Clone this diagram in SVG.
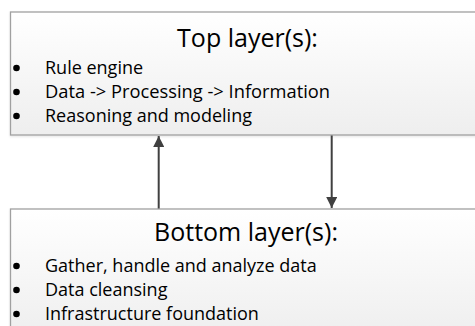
<svg xmlns="http://www.w3.org/2000/svg" width="475" height="326" viewBox="0 0 475 326">
<defs>
<linearGradient id="g" x1="0" y1="0" x2="0" y2="1">
<stop offset="0" stop-color="#ffffff"/>
<stop offset="1" stop-color="#eeeeee"/>
</linearGradient>
<marker id="ah" markerWidth="11" markerHeight="11" viewBox="0 0 11 11" refX="11" refY="5.5" orient="auto" markerUnits="userSpaceOnUse">
<path d="M0,0 L11,5.5 L0,11 Z" fill="#404040"/>
</marker>
<filter id="sh" x="-5%" y="-5%" width="110%" height="120%">
<feDropShadow dx="0" dy="1.2" stdDeviation="0.8" flood-color="#000" flood-opacity="0.1"/>
</filter>
</defs>
<style>
.box{fill:url(#g);stroke:#a0a0a0;stroke-width:1.3}
.title{font-family:"Open Sans","Liberation Sans",sans-serif;font-size:25px;fill:#000;text-anchor:middle}
.item{font-family:"Open Sans","Liberation Sans",sans-serif;font-size:18px;fill:#000}
.bul{fill:#000}
.conn{stroke:#404040;stroke-width:2;fill:none;marker-end:url(#ah)}
</style>
<rect width="475" height="326" fill="#ffffff"/>
<g id="top-layer">
<rect class="box" x="10.5" y="12" width="470" height="123" filter="url(#sh)"/>
<text class="title" x="247.5" y="47">Top layer(s):</text>
<circle class="bul" cx="16.5" cy="68" r="3.3"/>
<text class="item" x="45" y="74">Rule engine</text>
<circle class="bul" cx="16.5" cy="92" r="3.3"/>
<text class="item" x="45" y="98" textLength="285" lengthAdjust="spacingAndGlyphs">Data -&gt; Processing -&gt; Information</text>
<circle class="bul" cx="16.5" cy="116" r="3.3"/>
<text class="item" x="45" y="122">Reasoning and modeling</text>
</g>
<g id="bottom-layer">
<rect class="box" x="10.5" y="209" width="470" height="130" filter="url(#sh)"/>
<text class="title" x="246" y="241">Bottom layer(s):</text>
<circle class="bul" cx="16.5" cy="266" r="3.3"/>
<text class="item" x="45" y="272">Gather, handle and analyze data</text>
<circle class="bul" cx="16.5" cy="290" r="3.3"/>
<text class="item" x="45" y="296">Data cleansing</text>
<circle class="bul" cx="16.5" cy="314" r="3.3"/>
<text class="item" x="45" y="320">Infrastructure foundation</text>
</g>
<g id="connectors">
<line class="conn" x1="158.7" y1="208.5" x2="158.7" y2="136"/>
<line class="conn" x1="331.7" y1="135.5" x2="331.7" y2="208"/>
</g>
</svg>
